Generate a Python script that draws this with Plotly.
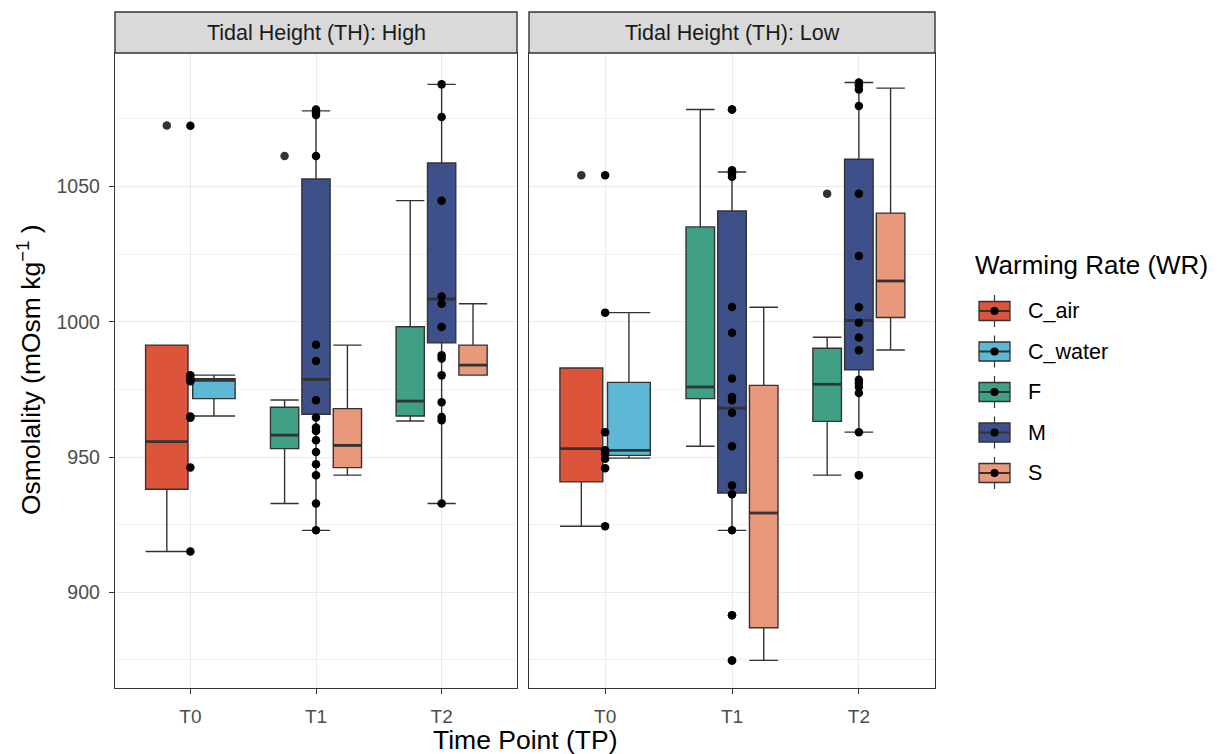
import plotly.graph_objects as go

# ---- data -----------------------------------------------------------------
panels = ["High", "Low"]
time_points = ["T0", "T1", "T2"]
groups = ["C_air", "C_water", "F", "M", "S"]
group_colors = {
    "C_air": "#DC543A",
    "C_water": "#5DB8D6",
    "F": "#3FA085",
    "M": "#3D5089",
    "S": "#E8987B",
}

# boxplot summaries: (panel, time point, group) -> lower whisker, Q1, median, Q3, upper whisker
box_lower = {
    ("High", "T0", "C_air"): 915.1, ("High", "T0", "C_water"): 965.2,
    ("High", "T1", "F"): 932.8, ("High", "T1", "M"): 922.9, ("High", "T1", "S"): 943.3,
    ("High", "T2", "F"): 963.3, ("High", "T2", "M"): 932.8, ("High", "T2", "S"): 980.3,
    ("Low", "T0", "C_air"): 924.4, ("Low", "T0", "C_water"): 949.6,
    ("Low", "T1", "F"): 954.0, ("Low", "T1", "M"): 922.9, ("Low", "T1", "S"): 874.8,
    ("Low", "T2", "F"): 943.3, ("Low", "T2", "M"): 959.2, ("Low", "T2", "S"): 989.6,
}
box_q1 = {
    ("High", "T0", "C_air"): 938.1, ("High", "T0", "C_water"): 971.6,
    ("High", "T1", "F"): 953.1, ("High", "T1", "M"): 965.8, ("High", "T1", "S"): 946.1,
    ("High", "T2", "F"): 965.2, ("High", "T2", "M"): 992.2, ("High", "T2", "S"): 980.3,
    ("Low", "T0", "C_air"): 940.8, ("Low", "T0", "C_water"): 950.6,
    ("Low", "T1", "F"): 971.6, ("Low", "T1", "M"): 936.7, ("Low", "T1", "S"): 886.9,
    ("Low", "T2", "F"): 963.2, ("Low", "T2", "M"): 982.3, ("Low", "T2", "S"): 1001.6,
}
box_median = {
    ("High", "T0", "C_air"): 955.7, ("High", "T0", "C_water"): 978.4,
    ("High", "T1", "F"): 958.1, ("High", "T1", "M"): 978.7, ("High", "T1", "S"): 954.3,
    ("High", "T2", "F"): 970.7, ("High", "T2", "M"): 1008.4, ("High", "T2", "S"): 984.0,
    ("Low", "T0", "C_air"): 953.1, ("Low", "T0", "C_water"): 952.5,
    ("Low", "T1", "F"): 975.9, ("Low", "T1", "M"): 968.1, ("Low", "T1", "S"): 929.3,
    ("Low", "T2", "F"): 976.9, ("Low", "T2", "M"): 1000.5, ("Low", "T2", "S"): 1015.1,
}
box_q3 = {
    ("High", "T0", "C_air"): 991.4, ("High", "T0", "C_water"): 979.0,
    ("High", "T1", "F"): 968.4, ("High", "T1", "M"): 1052.8, ("High", "T1", "S"): 967.9,
    ("High", "T2", "F"): 998.2, ("High", "T2", "M"): 1058.7, ("High", "T2", "S"): 991.4,
    ("Low", "T0", "C_air"): 982.9, ("Low", "T0", "C_water"): 977.6,
    ("Low", "T1", "F"): 1035.1, ("Low", "T1", "M"): 1041.0, ("Low", "T1", "S"): 976.5,
    ("Low", "T2", "F"): 990.2, ("Low", "T2", "M"): 1060.1, ("Low", "T2", "S"): 1040.2,
}
box_upper = {
    ("High", "T0", "C_air"): 991.4, ("High", "T0", "C_water"): 980.3,
    ("High", "T1", "F"): 971.1, ("High", "T1", "M"): 1078.0, ("High", "T1", "S"): 991.4,
    ("High", "T2", "F"): 1044.8, ("High", "T2", "M"): 1087.8, ("High", "T2", "S"): 1006.7,
    ("Low", "T0", "C_air"): 982.9, ("Low", "T0", "C_water"): 1003.4,
    ("Low", "T1", "F"): 1078.5, ("Low", "T1", "M"): 1055.4, ("Low", "T1", "S"): 1005.4,
    ("Low", "T2", "F"): 994.3, ("Low", "T2", "M"): 1088.5, ("Low", "T2", "S"): 1086.4,
}
box_outliers = {
    ("High", "T0", "C_air"): [1072.6],
    ("High", "T1", "F"): [1061.3],
    ("Low", "T0", "C_air"): [1054.2],
    ("Low", "T1", "M"): [1078.5, 891.5, 874.8],
    ("Low", "T2", "F"): [1047.4],
    ("Low", "T2", "M"): [943.3],
}

# individual measurements drawn at each time point
points_high_t0 = [1072.5, 980.2, 979.0, 978.0, 965.0, 964.5, 946.1, 915.1]
points_high_t1 = [1078.5, 1077.5, 1076.5, 1061.3, 991.5, 985.5, 971.0, 964.6,
                  960.9, 959.6, 956.2, 951.9, 947.3, 943.3, 932.8, 922.9]
points_high_t2 = [1087.8, 1075.7, 1044.8, 1009.4, 1006.7, 998.1, 987.6, 986.4,
                  980.2, 970.3, 964.8, 963.6, 932.8]
points_low_t0 = [1054.2, 1003.4, 959.2, 952.5, 951.3, 949.4, 945.9, 924.4]
points_low_t1 = [1078.5, 1056.0, 1054.8, 1053.6, 1005.5, 996.0, 979.0, 972.2,
                 971.0, 966.4, 954.0, 939.5, 936.2, 922.9, 891.5, 874.8]
points_low_t2 = [1088.5, 1087.5, 1085.9, 1079.8, 1047.4, 1024.3, 1005.4, 999.7,
                 994.2, 989.5, 978.6, 977.4, 975.9, 973.7, 959.2, 943.3]
points = {
    ("High", "T0"): points_high_t0, ("High", "T1"): points_high_t1, ("High", "T2"): points_high_t2,
    ("Low", "T0"): points_low_t0, ("Low", "T1"): points_low_t1, ("Low", "T2"): points_low_t2,
}

y_ticks = [900, 950, 1000, 1050]

# ---- styling ----------------------------------------------------------------
FONT = "Arial, Liberation Sans, sans-serif"
DARK = "#333333"
GRID = "#EBEBEB"
DODGE = 0.75

fig = go.Figure()
axis_for = {"High": ("x", "y"), "Low": ("x2", "y2")}

for panel in panels:
    xa, ya = axis_for[panel]
    for ti, tp in enumerate(time_points):
        present = [g for g in groups if (panel, tp, g) in box_q1]
        n = len(present)
        slot = DODGE / n
        for gi, g in enumerate(present):
            key = (panel, tp, g)
            xc = ti + (gi - (n - 1) / 2) * slot
            w = slot * 0.9
            fig.add_trace(go.Box(
                x=[xc], q1=[box_q1[key]], median=[box_median[key]], q3=[box_q3[key]],
                lowerfence=[box_lower[key]], upperfence=[box_upper[key]],
                width=w, whiskerwidth=1, boxpoints=False,
                fillcolor=group_colors[g], line=dict(color=DARK, width=1.4),
                name=g, showlegend=False, hoverinfo="skip",
                xaxis=xa, yaxis=ya,
            ))
            # thicker median bar
            fig.add_trace(go.Scatter(
                x=[xc - w / 2, xc + w / 2], y=[box_median[key]] * 2,
                mode="lines", line=dict(color=DARK, width=2.8),
                showlegend=False, hoverinfo="skip", xaxis=xa, yaxis=ya,
            ))
            if key in box_outliers:
                vals = box_outliers[key]
                fig.add_trace(go.Scatter(
                    x=[xc] * len(vals), y=vals, mode="markers",
                    marker=dict(color=DARK, size=8.5),
                    showlegend=False, hoverinfo="skip", xaxis=xa, yaxis=ya,
                ))
        vals = points[(panel, tp)]
        fig.add_trace(go.Scatter(
            x=[ti] * len(vals), y=vals, mode="markers",
            marker=dict(color="black", size=8.5),
            showlegend=False, hoverinfo="skip", xaxis=xa, yaxis=ya,
        ))

W, H = 1225, 754
ML, MR, MT, MB = 115, 290, 53, 66
PW, PH = W - ML - MR, H - MT - MB


def px_x(p):
    return (p - ML) / PW


def px_y(p):
    return 1 - (p - MT) / PH


x_common = dict(
    range=[-0.6, 2.6], tickmode="array", tickvals=[0, 1, 2], ticktext=time_points,
    showgrid=True, gridcolor=GRID, gridwidth=1.1, zeroline=False,
    showline=True, mirror=True, linecolor=DARK, linewidth=1.4,
    ticks="outside", ticklen=5, tickcolor=DARK, tickwidth=1.2,
    ticklabelstandoff=6,
    tickfont=dict(family=FONT, size=19, color="#4D4D4D"),
)
y_common = dict(
    range=[864.6, 1099.4], tickmode="array", tickvals=y_ticks,
    showgrid=True, gridcolor=GRID, gridwidth=1.1, zeroline=False,
    showline=True, mirror=True, linecolor=DARK, linewidth=1.4,
    minor=dict(dtick=25, tick0=875, showgrid=True, gridcolor="#F0F0F0", gridwidth=0.8, ticks=""),
)

fig.update_layout(
    width=W, height=H,
    margin=dict(l=ML, r=MR, t=MT, b=MB),
    paper_bgcolor="white", plot_bgcolor="white",
    showlegend=False,
    xaxis=dict(domain=[0, px_x(517)], anchor="y", **x_common),
    xaxis2=dict(domain=[px_x(529), 1], anchor="y2", **x_common),
    yaxis=dict(anchor="x", ticks="outside", ticklen=5, tickcolor=DARK, tickwidth=1.2,
               ticklabelstandoff=5,
               tickfont=dict(family=FONT, size=19.5, color="#4D4D4D"), **y_common),
    yaxis2=dict(anchor="x2", matches="y", showticklabels=False, ticks="", **y_common),
)

# facet strips
shapes = []
annotations = []
for xa, label in [("x", "Tidal Height (TH): High"), ("x2", "Tidal Height (TH): Low")]:
    shapes.append(dict(type="rect", xref=f"{xa} domain", yref="paper",
                       x0=0, x1=1, y0=1, y1=px_y(12),
                       fillcolor="#D9D9D9", line=dict(color=DARK, width=1.4), layer="above"))
    annotations.append(dict(text=label, xref=f"{xa} domain", yref="paper",
                            x=0.5, y=(1 + px_y(12)) / 2, showarrow=False,
                            xanchor="center", yanchor="middle",
                            font=dict(family=FONT, size=21.5, color="#1A1A1A")))

# axis titles
annotations.append(dict(text="Time Point (TP)", xref="paper", yref="paper",
                        x=px_x(525), y=px_y(740), showarrow=False,
                        xanchor="center", yanchor="middle",
                        font=dict(family=FONT, size=26.5, color="black")))
annotations.append(dict(text="Osmolality (mOsm kg<sup>−1</sup> )", xref="paper", yref="paper",
                        x=px_x(29), y=px_y(370), showarrow=False, textangle=-90,
                        xanchor="center", yanchor="middle",
                        font=dict(family=FONT, size=26.5, color="black")))

# legend drawn as boxplot keys
annotations.append(dict(text="Warming Rate (WR)", xref="paper", yref="paper",
                        x=px_x(973), y=px_y(265), showarrow=False,
                        xanchor="left", yanchor="middle",
                        font=dict(family=FONT, size=26, color="black")))
for i, g in enumerate(groups):
    cy = 311 + i * 40.5
    x0, x1 = 979, 1010
    cx = (x0 + x1) / 2
    shapes.append(dict(type="line", xref="paper", yref="paper",
                       x0=px_x(cx), x1=px_x(cx), y0=px_y(cy - 16), y1=px_y(cy + 16),
                       line=dict(color=DARK, width=1.2)))
    shapes.append(dict(type="rect", xref="paper", yref="paper",
                       x0=px_x(x0), x1=px_x(x1), y0=px_y(cy - 9.5), y1=px_y(cy + 9.5),
                       fillcolor=group_colors[g], line=dict(color=DARK, width=1.3)))
    shapes.append(dict(type="line", xref="paper", yref="paper",
                       x0=px_x(x0), x1=px_x(x1), y0=px_y(cy), y1=px_y(cy),
                       line=dict(color=DARK, width=2)))
    shapes.append(dict(type="circle", xref="paper", yref="paper",
                       x0=px_x(cx - 4), x1=px_x(cx + 4), y0=px_y(cy - 4), y1=px_y(cy + 4),
                       fillcolor="black", line=dict(color="black", width=0)))
    annotations.append(dict(text=g, xref="paper", yref="paper",
                            x=px_x(1026), y=px_y(cy), showarrow=False,
                            xanchor="left", yanchor="middle",
                            font=dict(family=FONT, size=21.5, color="black")))

fig.update_layout(shapes=shapes, annotations=annotations)
fig.write_html("out.html")
